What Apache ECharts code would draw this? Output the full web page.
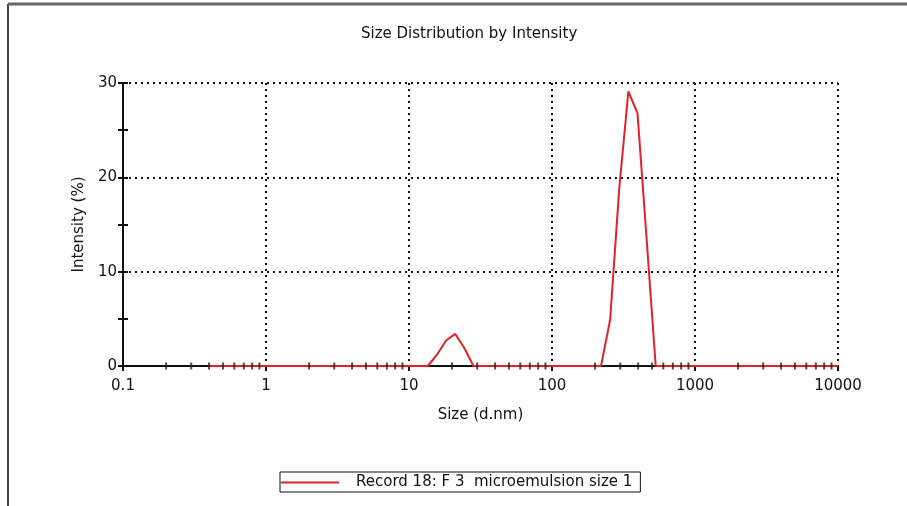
<!DOCTYPE html>
<html>
<head>
<meta charset="utf-8">
<script src="https://cdn.jsdelivr.net/npm/echarts@6/dist/echarts.min.js"></script>
<style>
  html, body { margin: 0; padding: 0; background: #fff; }
  #chart { width: 907px; height: 506px; }
</style>
</head>
<body>
<div id="chart"></div>
<script>
// size (d.nm) breakpoints of the record, and intensity (%) at each
var sizes = [0.4, 13.54, 15.69, 18.17, 21.04, 24.36, 28.21, 220.2, 255.0, 295.3, 342.0, 396.1, 458.7, 531.2, 10000];
var intensity = [0, 0, 1.2, 2.7, 3.4, 1.9, 0, 0, 4.9, 18.8, 29.1, 26.8, 13.5, 0, 0];
// minor log ticks drawn across the x axis
var minorTicks = [];
var decades = [0.1, 1, 10, 100, 1000];
decades.forEach(function (d) {
  for (var k = 2; k <= 9; k++) minorTicks.push(+(d * k).toPrecision(3));
});
var seriesName = 'Record 18: F 3  microemulsion size 1';

var font = 'DejaVu Sans, sans-serif';
var dotted = { color: '#111', width: 2, type: [2, 4] };

var chart = echarts.init(document.getElementById('chart'));
var option = {
  backgroundColor: '#fff',
  animation: false,
  title: {
    text: 'Size Distribution by Intensity',
    left: 356,
    top: 22,
    textStyle: { fontFamily: font, fontSize: 15, fontWeight: 'normal', color: '#111' }
  },
  legend: {
    data: [seriesName],
    icon: 'rect',
    left: 280,
    top: 472,
    padding: [3, 8, 2, 1],
    borderColor: '#111',
    borderWidth: 1,
    itemWidth: 58,
    itemHeight: 2,
    itemGap: 0,
    textStyle: { fontFamily: font, fontSize: 15, color: '#111', padding: [0, 0, 0, 12] }
  },
  grid: { left: 123, right: 69, top: 83, bottom: 140 },
  xAxis: {
    type: 'log',
    logBase: 10,
    min: 0.1,
    max: 10000,
    name: 'Size (d.nm)',
    nameLocation: 'middle',
    nameGap: 42,
    nameTextStyle: { fontFamily: font, fontSize: 15, color: '#111' },
    axisLine: { show: true, lineStyle: { color: '#111', width: 2 } },
    axisTick: { show: true, length: 5, lineStyle: { color: '#111', width: 2 } },
    axisLabel: {
      margin: 13,
      fontFamily: font,
      fontSize: 15,
      color: '#111',
      formatter: function (v) { return String(Number(v.toPrecision(4))); }
    },
    splitLine: { show: true, lineStyle: dotted }
  },
  yAxis: [{
    type: 'value',
    min: 0,
    max: 30,
    interval: 10,
    name: 'Intensity (%)',
    nameLocation: 'middle',
    nameGap: 27,
    nameTextStyle: { fontFamily: font, fontSize: 15, color: '#111' },
    axisLine: { show: true, lineStyle: { color: '#111', width: 2 } },
    axisTick: { show: true, length: 5, lineStyle: { color: '#111', width: 2 } },
    minorTick: { show: true, splitNumber: 2, length: 5, lineStyle: { color: '#111', width: 2 } },
    axisLabel: { margin: 6, fontFamily: font, fontSize: 15, color: '#111' },
    splitLine: { show: true, lineStyle: dotted }
  }, {
    type: 'value',
    min: 0,
    max: 30,
    interval: 10,
    position: 'left',
    axisLine: { show: false },
    axisTick: { show: true, inside: true, length: 5, lineStyle: { color: '#111', width: 2 } },
    minorTick: { show: true, splitNumber: 2, length: 5, lineStyle: { color: '#111', width: 2 } },
    axisLabel: { show: false },
    splitLine: { show: false }
  }],
  graphic: [
    { type: 'line', shape: { x1: 8, y1: 4, x2: 8, y2: 506 }, style: { stroke: '#444', lineWidth: 2 } },
    { type: 'line', shape: { x1: 8, y1: 4, x2: 907, y2: 4 }, style: { stroke: '#666', lineWidth: 3 } }
  ],
  series: [{
    name: seriesName,
    type: 'line',
    symbol: 'none',
    data: sizes.map(function (s, i) { return [s, intensity[i]]; }),
    lineStyle: { color: '#e3212b', width: 2 },
    itemStyle: { color: '#e3212b' },
    z: 3
  }, {
    type: 'scatter',
    silent: true,
    symbol: 'rect',
    symbolSize: [2, 7],
    data: minorTicks.map(function (t) { return [t, 0]; }),
    itemStyle: { color: '#222' },
    z: 4
  }]
};
chart.setOption(option);
</script>
</body>
</html>
